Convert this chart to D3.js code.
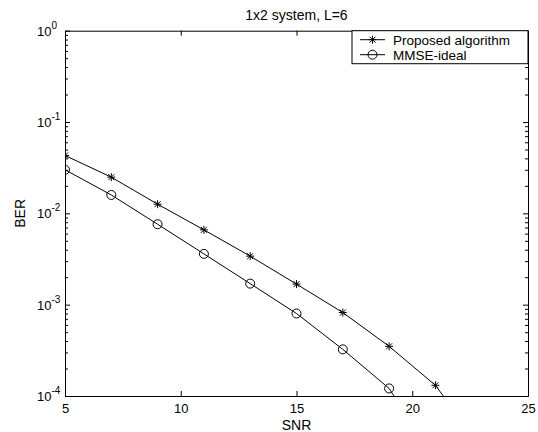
<!DOCTYPE html>
<html>
<head>
<meta charset="utf-8">
<script src="https://cdn.jsdelivr.net/npm/d3@7"></script>
<style>
body { margin: 0; background: #fff; }
svg text { font-family: "Liberation Sans", Arial, sans-serif; fill: #000; }
.axis path, .axis line { stroke: #000; stroke-width: 1; }
</style>
</head>
<body>
<div id="chart"></div>
<script>
var w = 538, h = 432;

// Data (last points fall below 1e-4 and are clipped)
var snrProposed = [5, 7, 9, 11, 13, 15, 17, 19, 21, 23];
var berProposed = [0.043, 0.0249, 0.0126, 0.0066, 0.0034, 0.00168, 0.00082, 0.00035, 0.000131, 0.000027];
var snrMmse = [5, 7, 9, 11, 13, 15, 17, 19, 21];
var berMmse = [0.030, 0.0159, 0.0076, 0.0036, 0.0017, 0.0008, 0.000324, 0.000121, 0.00002];

var xTicks = [5, 10, 15, 20, 25];
var yExponents = [0, -1, -2, -3, -4];
var legendLabels = ["Proposed algorithm", "MMSE-ideal"];
var titleText = "1x2 system, L=6";

var plotLeft = 65, plotRight = 528, plotTop = 30.7, plotBottom = 396;

var svg = d3.select("#chart").append("svg")
	.attr("width", w)
	.attr("height", h);

var x = d3.scaleLinear()
	.domain([5, 25])
	.range([plotLeft, plotRight]);

var y = d3.scaleLog()
	.domain([1e-4, 1])
	.range([plotBottom, plotTop]);

// Minor tick values for the log axis
var minorTicks = [];
yExponents.slice(1).forEach(function(e) {
	for (var k = 2; k <= 9; k++) minorTicks.push(k * Math.pow(10, e));
});
var majorTicks = yExponents.map(function(e) { return Math.pow(10, e); });

svg.append("rect")
	.attr("x", plotLeft).attr("y", plotTop)
	.attr("width", plotRight - plotLeft).attr("height", plotBottom - plotTop)
	.attr("fill", "#fff");

// Bottom axis
svg.append("g")
	.attr("class", "axis")
	.attr("transform", "translate(0," + plotBottom + ")")
	.call(d3.axisBottom(x).tickValues(xTicks).tickSize(-5).tickSizeOuter(0).tickPadding(8))
	.call(function(g) { g.selectAll("text").attr("font-size", 13); });

// Top axis
svg.append("g")
	.attr("class", "axis")
	.attr("transform", "translate(0," + plotTop + ")")
	.call(d3.axisTop(x).tickValues(xTicks).tickSize(-5).tickSizeOuter(0).tickFormat(""));

// Left axis, major + minor
svg.append("g")
	.attr("class", "axis")
	.attr("transform", "translate(" + plotLeft + ",0)")
	.call(d3.axisLeft(y).tickValues(majorTicks).tickSize(-5).tickSizeOuter(0).tickFormat(""));
svg.append("g")
	.attr("class", "axis")
	.attr("transform", "translate(" + plotLeft + ",0)")
	.call(d3.axisLeft(y).tickValues(minorTicks).tickSize(-3).tickSizeOuter(0).tickFormat(""));

// Right axis, major + minor
svg.append("g")
	.attr("class", "axis")
	.attr("transform", "translate(" + plotRight + ",0)")
	.call(d3.axisRight(y).tickValues(majorTicks).tickSize(-5).tickSizeOuter(0).tickFormat(""));
svg.append("g")
	.attr("class", "axis")
	.attr("transform", "translate(" + plotRight + ",0)")
	.call(d3.axisRight(y).tickValues(minorTicks).tickSize(-3).tickSizeOuter(0).tickFormat(""));

// Y tick labels as 10^e
var yLabels = svg.append("g").selectAll("text")
	.data(yExponents)
	.enter()
	.append("text")
		.attr("x", 37)
		.attr("y", function(d) { return y(Math.pow(10, d)) + 5; })
		.attr("font-size", 13);
yLabels.append("tspan").text("10");
yLabels.append("tspan")
	.attr("dy", -7)
	.attr("font-size", 10)
	.text(function(d) { return d === 0 ? "0" : "-" + Math.abs(d); });

// Clip for the curves
svg.append("clipPath")
	.attr("id", "clip")
	.append("rect")
		.attr("x", plotLeft).attr("y", plotTop)
		.attr("width", plotRight - plotLeft).attr("height", plotBottom - plotTop);

var line = d3.line()
	.x(function(d) { return x(d[0]); })
	.y(function(d) { return y(d[1]); });

var proposed = d3.zip(snrProposed, berProposed);
var mmse = d3.zip(snrMmse, berMmse);

var curves = svg.append("g").attr("clip-path", "url(#clip)");

curves.append("path")
	.datum(proposed)
	.attr("fill", "none")
	.attr("stroke", "#000")
	.attr("d", line);

curves.append("path")
	.datum(mmse)
	.attr("fill", "none")
	.attr("stroke", "#000")
	.attr("d", line);

var starPath = "M-4,0H4M0,-4V4M-3,-3L3,3M-3,3L3,-3";

curves.selectAll("path.star")
	.data(proposed)
	.enter()
	.append("path")
		.attr("class", "star")
		.attr("transform", function(d) { return "translate(" + x(d[0]) + "," + y(d[1]) + ")"; })
		.attr("d", starPath)
		.attr("stroke", "#000")
		.attr("fill", "none");

curves.selectAll("circle")
	.data(mmse)
	.enter()
	.append("circle")
		.attr("cx", function(d) { return x(d[0]); })
		.attr("cy", function(d) { return y(d[1]); })
		.attr("r", 4.5)
		.attr("stroke", "#000")
		.attr("fill", "none");

// Title and axis labels
svg.append("text")
	.attr("x", (plotLeft + plotRight) / 2)
	.attr("y", 20)
	.attr("text-anchor", "middle")
	.attr("font-size", 14)
	.text(titleText);

svg.append("text")
	.attr("x", (plotLeft + plotRight) / 2)
	.attr("y", 430)
	.attr("text-anchor", "middle")
	.attr("font-size", 14)
	.text("SNR");

svg.append("text")
	.attr("transform", "translate(25," + ((plotTop + plotBottom) / 2) + ") rotate(-90)")
	.attr("text-anchor", "middle")
	.attr("font-size", 14)
	.text("BER");

// Legend
var legend = svg.append("g");
legend.append("rect")
	.attr("x", 352).attr("y", plotTop)
	.attr("width", plotRight - 352).attr("height", 33)
	.attr("fill", "#fff")
	.attr("stroke", "#000");

var rows = legend.selectAll("g.row")
	.data(legendLabels)
	.enter()
	.append("g")
		.attr("class", "row")
		.attr("transform", function(d, i) { return "translate(0," + (plotTop + 9 + i * 15) + ")"; });

rows.append("line")
	.attr("x1", 360).attr("x2", 385)
	.attr("stroke", "#000");

rows.filter(function(d, i) { return i === 0; })
	.append("path")
		.attr("transform", "translate(372.5,0)")
		.attr("d", starPath)
		.attr("stroke", "#000");

rows.filter(function(d, i) { return i === 1; })
	.append("circle")
		.attr("cx", 372.5)
		.attr("r", 4.5)
		.attr("fill", "none")
		.attr("stroke", "#000");

rows.append("text")
	.attr("x", 393)
	.attr("y", 5)
	.attr("font-size", 13.5)
	.text(function(d) { return d; });
</script>
</body>
</html>
